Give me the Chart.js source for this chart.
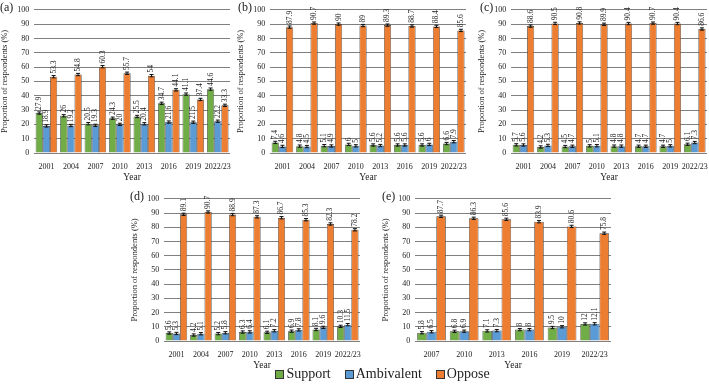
<!DOCTYPE html>
<html>
<head>
<meta charset="utf-8">
<script src="https://cdn.jsdelivr.net/npm/chart.js@4"></script>
<style>
  body { margin: 0; background: #fff; }
  #wrap { position: relative; width: 709px; height: 386px; overflow: hidden; font-family: "Liberation Serif", "Times New Roman", serif; }
  canvas { position: absolute; }
  .tag { position: absolute; font-size: 12px; color: #222; }
  #legend { position: absolute; left: 0; width: 709px; top: 366px; display: flex; justify-content: center; gap: 14px; font-size: 14px; color: #222; padding-left: 56px; box-sizing: border-box; }
  #legend span { display: inline-flex; align-items: center; }
  #legend i { display: inline-block; width: 7px; height: 7px; border: 1px solid #333; margin-right: 2px; }
</style>
</head>
<body>
<div id="wrap">
  <canvas id="ca" width="232" height="183" style="left:0px;top:0px"></canvas>
  <canvas id="cb" width="232" height="183" style="left:236px;top:0px"></canvas>
  <canvas id="cc" width="232" height="183" style="left:477px;top:0px"></canvas>
  <canvas id="cd" width="232" height="182" style="left:130px;top:189px"></canvas>
  <canvas id="ce" width="232" height="182" style="left:381px;top:189px"></canvas>
  <div class="tag" style="left:0px;top:0px">(a)</div>
  <div class="tag" style="left:238px;top:0px">(b)</div>
  <div class="tag" style="left:480px;top:0px">(c)</div>
  <div class="tag" style="left:130px;top:189px">(d)</div>
  <div class="tag" style="left:382px;top:189px">(e)</div>
  <div id="legend">
    <span><i style="background:#70AD47"></i>Support</span>
    <span><i style="background:#5B9BD5"></i>Ambivalent</span>
    <span><i style="background:#ED7D31"></i>Oppose</span>
  </div>
</div>
<script>
// years
const years = ["2001", "2004", "2007", "2010", "2013", "2016", "2019", "2022/23"];
const yearsE = ["2007", "2010", "2013", "2016", "2019", "2022/23"];

// panel (a)
const supportA = [27.9, 26, 20.5, 24.3, 25.5, 34.7, 41.1, 44.6];
const ambivA   = [18.9, 19.2, 19.3, 20, 20.4, 21.6, 21.5, 22.2];
const opposeA  = [53.3, 54.8, 60.3, 55.7, 54, 44.1, 37.4, 33.3];
// panel (b)
const supportB = [7.4, 4.8, 5.1, 6, 5.6, 5.6, 5.6, 6.6];
const ambivB   = [4.6, 4.5, 4.9, 5, 5.2, 5.6, 6, 7.9];
const opposeB  = [87.9, 90.7, 90, 89, 89.3, 88.7, 88.4, 85.6];
// panel (c)
const supportC = [5.7, 4.2, 4.5, 5, 4.8, 4.7, 4.7, 6.1];
const ambivC   = [5.6, 5.3, 4.7, 5.1, 4.8, 4.7, 5, 7.3];
const opposeC  = [88.6, 90.5, 90.8, 89.9, 90.4, 90.7, 90.4, 86.6];
// panel (d)
const supportD = [5.6, 4.2, 5.2, 6.3, 6.1, 6.9, 8.1, 10.3];
const ambivD   = [5.3, 5.1, 5.8, 6.4, 7.2, 7.8, 9.6, 11.5];
const opposeD  = [89.1, 90.7, 88.9, 87.3, 86.7, 85.3, 82.3, 78.2];
// panel (e)
const supportE = [5.8, 6.8, 7.1, 8, 9.5, 12];
const ambivE   = [6.5, 6.9, 7.3, 8, 10, 12.1];
const opposeE  = [87.7, 86.3, 85.6, 83.9, 80.6, 75.8];

const errHalf = 0.8;  // approx error bar half-width (%)
const yTicks = [0, 10, 20, 30, 40, 50, 60, 70, 80, 90, 100];

const serif = "'Liberation Serif', 'Times New Roman', serif";

// error bars + rotated value labels
const barExtras = {
    id: "barExtras",
    afterDatasetsDraw(chart){
        const ctx = chart.ctx;
        const ys = chart.scales.y;
        chart.data.datasets.forEach((ds, di) => {
            const meta = chart.getDatasetMeta(di);
            meta.data.forEach((bar, i) => {
                const v = ds.data[i];
                const x = bar.x;
                const yHi = ys.getPixelForValue(v + errHalf);
                const yLo = ys.getPixelForValue(v - errHalf);
                ctx.save();
                ctx.strokeStyle = "#111";
                ctx.lineWidth = 1;
                ctx.beginPath();
                ctx.moveTo(x, yHi); ctx.lineTo(x, yLo);
                ctx.moveTo(x - 2, yHi); ctx.lineTo(x + 2, yHi);
                ctx.moveTo(x - 2, yLo); ctx.lineTo(x + 2, yLo);
                ctx.stroke();
                ctx.translate(x, yHi - 2);
                ctx.rotate(-Math.PI / 2);
                ctx.fillStyle = "#222";
                ctx.font = "7.5px " + serif;
                ctx.textAlign = "left";
                ctx.textBaseline = "middle";
                ctx.fillText(String(v), 0, 0);
                ctx.restore();
            });
        });
    }
};

function makeChart(id, labels, sup, amb, opp){
    const ctx = document.getElementById(id).getContext("2d");
    const common = { borderColor: "#3a3a3a", borderWidth: 0.7, barPercentage: 1, categoryPercentage: 0.88 };
    return new Chart(ctx, {
        type: "bar",
        data: {
            labels: labels,
            datasets: [
                Object.assign({ label: "Support", data: sup, backgroundColor: "#70AD47" }, common),
                Object.assign({ label: "Ambivalent", data: amb, backgroundColor: "#5B9BD5" }, common),
                Object.assign({ label: "Oppose", data: opp, backgroundColor: "#ED7D31" }, common)
            ]
        },
        options: {
            responsive: false,
            animation: false,
            layout: { padding: { top: 4, right: 2, left: 0, bottom: 0 } },
            plugins: { legend: { display: false }, tooltip: { enabled: false } },
            scales: {
                x: {
                    grid: { display: false },
                    border: { display: false },
                    ticks: { color: "#222", font: { family: serif, size: 8 }, maxRotation: 0, autoSkip: false, padding: 1 },
                    title: { display: true, text: "Year", color: "#222", font: { family: serif, size: 9.5 }, padding: { top: -1, bottom: 0 } }
                },
                y: {
                    min: 0, max: 100,
                    afterBuildTicks(axis){ axis.ticks = yTicks.map(v => ({ value: v })); },
                    grid: { color: "#808080", lineWidth: 1, drawTicks: false },
                    border: { display: false },
                    ticks: { color: "#222", font: { family: serif, size: 8 }, padding: 5 },
                    title: { display: true, text: "Proportion of respondents (%)", color: "#222", font: { family: serif, size: 8.5 }, padding: { top: 0, bottom: 2 } }
                }
            }
        },
        plugins: [barExtras]
    });
}

window.onload = function(){
    makeChart("ca", years, supportA, ambivA, opposeA);
    makeChart("cb", years, supportB, ambivB, opposeB);
    makeChart("cc", years, supportC, ambivC, opposeC);
    makeChart("cd", years, supportD, ambivD, opposeD);
    makeChart("ce", yearsE, supportE, ambivE, opposeE);
};
</script>
</body>
</html>
